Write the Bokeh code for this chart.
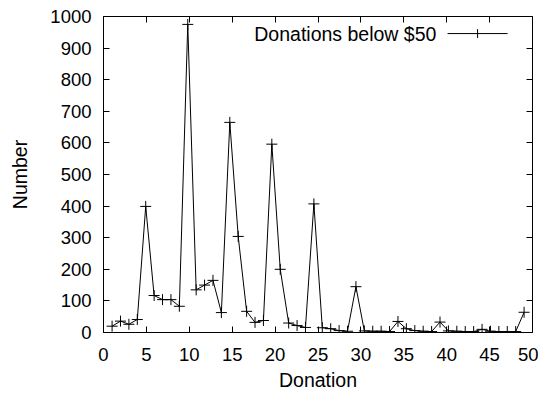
from bokeh.plotting import figure
from bokeh.models import (Range1d, LinearAxis, SingleIntervalTicker, Label, Arrow,
                          CustomJSTickFormatter)
from bokeh.embed import file_html
from bokeh.resources import INLINE

# Donation amounts $1..$50, plotted at these positions on the x axis
positions = [1.00, 1.98, 2.96, 3.94, 4.92, 5.90, 6.88, 7.86, 8.84, 9.82,
             10.80, 11.78, 12.76, 13.74, 14.72, 15.70, 16.68, 17.66, 18.64, 19.62,
             20.60, 21.58, 22.56, 23.54, 24.52, 25.50, 26.48, 27.46, 28.44, 29.42,
             30.40, 31.38, 32.36, 33.34, 34.32, 35.30, 36.28, 37.26, 38.24, 39.22,
             40.20, 41.18, 42.16, 43.14, 44.12, 45.10, 46.08, 47.06, 48.04, 49.02]
counts = [20, 36, 26, 41, 399, 117, 104, 104, 83, 975,
          135, 150, 165, 63, 665, 304, 67, 32, 38, 596,
          200, 30, 22, 16, 407, 15, 12, 6, 4, 145,
          5, 4, 4, 3, 35, 12, 6, 4, 3, 33,
          5, 4, 3, 3, 10, 4, 3, 3, 3, 64]
series_label = "Donations below $50"
x_title = "Donation"
y_title = "Number"

FONT = "Liberation Sans"

p = figure(width=538, height=393, output_backend="svg", toolbar_location=None,
           x_range=Range1d(0, 50), y_range=Range1d(0, 1000),
           min_border_left=103, min_border_right=6, min_border_top=16, min_border_bottom=60,
           background_fill_color="white", border_fill_color="white")
p.grid.visible = False
p.outline_line_color = "black"
p.outline_line_width = 1

xt = SingleIntervalTicker(interval=5)
yt = SingleIntervalTicker(interval=100)

for ax in (p.xaxis[0], p.yaxis[0]):
    ax.axis_line_color = None
    ax.major_tick_in = 6
    ax.major_tick_out = 0
    ax.minor_tick_in = 0
    ax.minor_tick_out = 0
    ax.major_tick_line_color = "black"
    ax.major_label_text_font = FONT
    ax.major_label_text_font_size = "18.5px"
    ax.major_label_text_color = "black"
    ax.axis_label_text_font = FONT
    ax.axis_label_text_font_size = "19.5px"
    ax.axis_label_text_font_style = "normal"
    ax.axis_label_text_color = "black"

p.xaxis[0].ticker = xt
p.yaxis[0].ticker = yt
p.xaxis[0].axis_label = x_title
p.yaxis[0].axis_label = y_title
p.xaxis[0].major_label_standoff = 15
p.xaxis[0].axis_label_standoff = 5
p.yaxis[0].major_label_standoff = 12
p.yaxis[0].axis_label_standoff = 16

# mirrored ticks on top and right
empty = CustomJSTickFormatter(code="return ''")
top = LinearAxis(ticker=SingleIntervalTicker(interval=5), formatter=empty)
right = LinearAxis(ticker=SingleIntervalTicker(interval=100), formatter=empty)
for ax in (top, right):
    ax.axis_line_color = None
    ax.major_tick_in = 6
    ax.major_tick_out = 0
    ax.minor_tick_in = 0
    ax.minor_tick_out = 0
    ax.major_label_standoff = 0
    ax.major_label_text_font_size = "0px"
p.add_layout(top, "above")
p.add_layout(right, "right")

p.line(positions, counts, line_color="black", line_width=1)
p.scatter(positions, counts, marker="cross", size=11, line_color="black", line_width=1)

# legend (text then sample, gnuplot style)
p.add_layout(Label(x=38.8, y=946, text=series_label, text_align="right",
                   text_baseline="middle", text_font=FONT, text_font_size="19.5px",
                   text_color="black"))
p.add_layout(Arrow(end=None, x_start=40.1, y_start=946, x_end=47.1, y_end=946,
                   line_color="black", line_width=1))
p.add_layout(Arrow(end=None, x_start=43.6, y_start=932, x_end=43.6, y_end=960,
                   line_color="black", line_width=1))

open("out.html", "w").write(file_html(p, INLINE))
